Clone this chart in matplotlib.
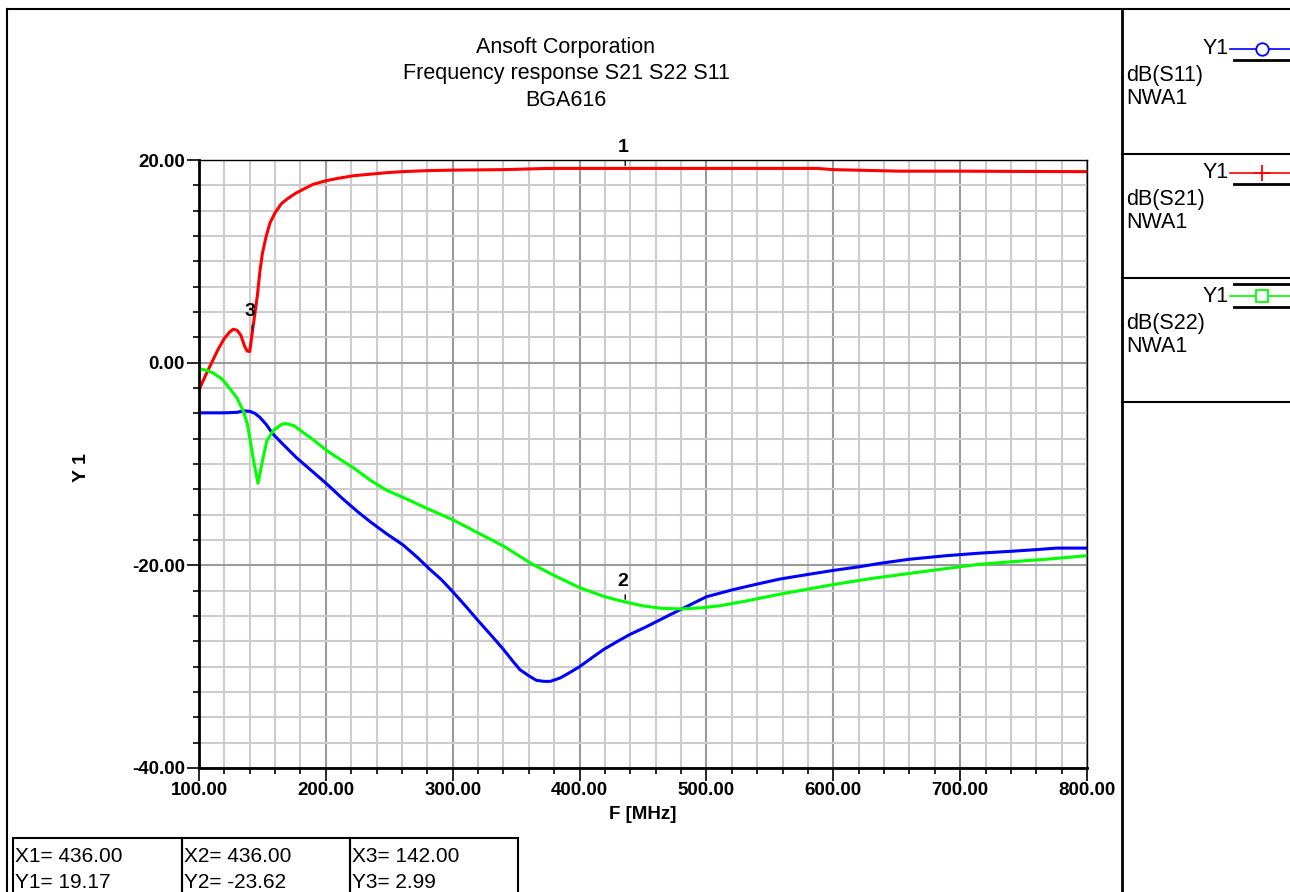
import matplotlib
matplotlib.use("Agg")
import matplotlib.pyplot as plt
from matplotlib.lines import Line2D
from matplotlib.patches import Rectangle
from matplotlib.ticker import MultipleLocator

# ---- data ----
freq_s21 = [100, 105, 110, 115, 120, 124, 127, 130, 133, 136, 138, 140, 142, 144, 146,
            148, 150, 153, 156, 160, 165, 170, 176, 182, 190, 200, 210, 222, 235, 248,
            260, 280, 300, 340, 376, 436, 500, 587, 600, 652, 700, 750, 800]
s21_db = [-2.7, -1.3, 0.0, 1.3, 2.4, 3.0, 3.3, 3.2, 2.7, 1.6, 1.15, 1.1, 2.99, 4.8, 6.6,
          9.0, 10.8, 12.5, 13.8, 14.8, 15.7, 16.2, 16.7, 17.1, 17.6, 17.95, 18.2, 18.45, 18.6, 18.75,
          18.85, 18.95, 19.0, 19.05, 19.17, 19.17, 19.17, 19.17, 19.05, 18.9, 18.9, 18.87, 18.85]

freq_s22 = [100, 106, 111, 118, 124, 130, 135, 138, 140, 143.5, 146.5, 150, 153.5, 158.5,
            165, 168, 174.5, 180, 190, 201, 212, 222, 235, 248, 261, 280, 300, 320, 340,
            363, 380, 400, 420, 436, 450, 465, 480, 495, 510, 532, 560, 600, 630, 663,
            690, 715, 740, 768, 800]
s22_db = [-0.6, -0.75, -1.0, -1.6, -2.5, -3.5, -4.8, -6.0, -7.4, -10.0, -11.9, -9.7, -7.7, -6.7,
          -6.1, -6.0, -6.2, -6.7, -7.6, -8.7, -9.6, -10.4, -11.6, -12.6, -13.3, -14.4, -15.5, -16.8, -18.1,
          -19.9, -21.0, -22.2, -23.1, -23.62, -24.0, -24.25, -24.3, -24.2, -24.0, -23.5, -22.8, -21.9, -21.3, -20.75,
          -20.3, -19.9, -19.65, -19.4, -19.05]

freq_s11 = [100, 120, 130, 135, 140, 144, 148, 153, 158, 165, 177, 190, 201, 213, 225, 235,
            248, 261, 272, 282, 291, 300, 310, 321, 331, 340, 347, 353, 360, 366, 372, 377,
            385, 392, 400, 410, 419, 430, 440, 452, 463, 479, 500, 521, 540, 558, 580, 600,
            620, 637, 660, 689, 715, 742, 760, 776, 800]
s11_db = [-4.95, -4.95, -4.9, -4.75, -4.8, -5.0, -5.4, -6.1, -7.0, -7.9, -9.4, -10.8, -12.0, -13.4, -14.7, -15.7,
          -16.9, -18.0, -19.2, -20.4, -21.4, -22.6, -24.0, -25.6, -27.0, -28.3, -29.4, -30.3, -30.9, -31.35, -31.45, -31.45,
          -31.1, -30.6, -30.0, -29.1, -28.3, -27.5, -26.8, -26.1, -25.4, -24.4, -23.1, -22.4, -21.85, -21.35, -20.9, -20.5,
          -20.15, -19.8, -19.4, -19.05, -18.8, -18.6, -18.45, -18.3, -18.3]

marker_ids = ["1", "2", "3"]
marker_x = [436.00, 436.00, 142.00]
marker_y = [19.17, -23.62, 2.99]

legend_names = ["dB(S11)", "dB(S21)", "dB(S22)"]
legend_colors = ["#0000ff", "#ff0000", "#00ff00"]

W, H = 1290, 892
FONT = "Liberation Sans"
TXT = 15.5


def px(x, y):
    return x / W, 1 - y / H


fig = plt.figure(figsize=(W / 100, H / 100), dpi=100)
fig.patch.set_facecolor("white")

# outer frame lines
fig.add_artist(Line2D([7 / W, 7 / W], [0, 1 - 9 / H], color="black", lw=1.5))
fig.add_artist(Line2D([7 / W, 1], [1 - 9 / H, 1 - 9 / H], color="black", lw=1.5))
fig.add_artist(Line2D([1122 / W, 1122 / W], [0, 1 - 9 / H], color="black", lw=2))

ax = fig.add_axes([199 / W, 1 - 768 / H, (1087 - 199) / W, (768 - 160) / H])
ax.plot(freq_s11, s11_db, color=legend_colors[0], lw=2.2)
ax.plot(freq_s21, s21_db, color=legend_colors[1], lw=2.2)
ax.plot(freq_s22, s22_db, color=legend_colors[2], lw=2.2)

ax.set_xlim(100, 800)
ax.set_ylim(-40, 20)
ax.xaxis.set_major_locator(MultipleLocator(100))
ax.xaxis.set_minor_locator(MultipleLocator(20))
ax.yaxis.set_major_locator(MultipleLocator(20))
ax.yaxis.set_minor_locator(MultipleLocator(2.5))
ax.grid(which="minor", color="#cccccc", lw=1.5)
ax.grid(which="major", color="#9a9a9a", lw=1.5)
ax.set_axisbelow(True)
ax.xaxis.set_major_formatter(lambda v, p: f"{v:.2f}")
ax.yaxis.set_major_formatter(lambda v, p: f"{v:.2f}")
ax.tick_params(which="major", length=9, width=1.2, labelsize=13.5, pad=1)
ax.tick_params(which="minor", length=4, width=1.2)
for lab in ax.get_xticklabels() + ax.get_yticklabels():
    lab.set_fontweight("bold")
    lab.set_family(FONT)
ax.spines["left"].set_linewidth(2)
ax.spines["bottom"].set_linewidth(2)
ax.spines["top"].set_linewidth(1)
ax.spines["right"].set_linewidth(1)

ax.set_xlabel("F [MHz]", fontsize=13.5, fontweight="bold", family=FONT, labelpad=5)
fig.text(*px(82, 468), "Y 1", rotation=90, fontsize=14, fontweight="bold",
         family=FONT, ha="center", va="center")

# markers
for mid, mx, my in zip(marker_ids, marker_x, marker_y):
    ax.annotate("", xy=(mx, my), xytext=(0, 10), textcoords="offset pixels",
                arrowprops=dict(arrowstyle="-", color="black", lw=1))
    ax.annotate(mid, xy=(mx, my), xytext=(-2, 12), textcoords="offset pixels",
                ha="center", va="bottom", fontsize=14, fontweight="bold", family=FONT)

# title
title_lines = ["Ansoft Corporation", "Frequency response S21 S22 S11", "BGA616"]
for line, ty in zip(title_lines, [48, 73, 100]):
    fig.text(*px(566, ty), line, fontsize=TXT, family=FONT, ha="center", va="center")

# legend panel on the right
sep_y = [154, 278, 402]
for yy in sep_y:
    fig.add_artist(Line2D([1122 / W, 1], [1 - yy / H] * 2, color="black", lw=1.5))

entry_y = [49, 173, 296]
markers = ["o", "+", "s"]
for i, (name, col, ey) in enumerate(zip(legend_names, legend_colors, entry_y)):
    fig.text(*px(1229, ey), "Y1", fontsize=TXT, family=FONT, ha="right", va="center")
    fig.add_artist(Line2D([1230 / W, 1], [1 - ey / H] * 2, color=col, lw=1.2))
    fig.add_artist(Line2D([1262 / W], [1 - ey / H], color=col, marker=markers[i],
                          markersize=12 if i == 1 else 9, markerfacecolor="white",
                          markeredgecolor=col, markeredgewidth=1.3))
    fig.add_artist(Line2D([1234 / W, 1], [1 - (ey + 11) / H] * 2, color="black", lw=2))
    if i == 2:
        fig.add_artist(Line2D([1234 / W, 1], [1 - (ey - 12) / H] * 2, color="black", lw=2))
    fig.text(*px(1126, ey + 27), name, fontsize=TXT, family=FONT, ha="left", va="center")
    fig.text(*px(1126, ey + 50), "NWA1", fontsize=TXT, family=FONT, ha="left", va="center")

# marker readout table
cell_x = [13, 182, 350, 518]
for i, (mid, mx, my) in enumerate(zip(marker_ids, marker_x, marker_y)):
    fig.add_artist(Rectangle(px(cell_x[i], 900), (cell_x[i + 1] - cell_x[i]) / W, 62 / H,
                             fill=False, edgecolor="black", lw=1.5))
    fig.text(*px(cell_x[i] + 2, 856), f"X{mid}= {mx:.2f}", fontsize=15, family=FONT,
             ha="left", va="center")
    fig.text(*px(cell_x[i] + 2, 882), f"Y{mid}= {my:.2f}", fontsize=15, family=FONT,
             ha="left", va="center")

fig.savefig("out.png", dpi=100)
